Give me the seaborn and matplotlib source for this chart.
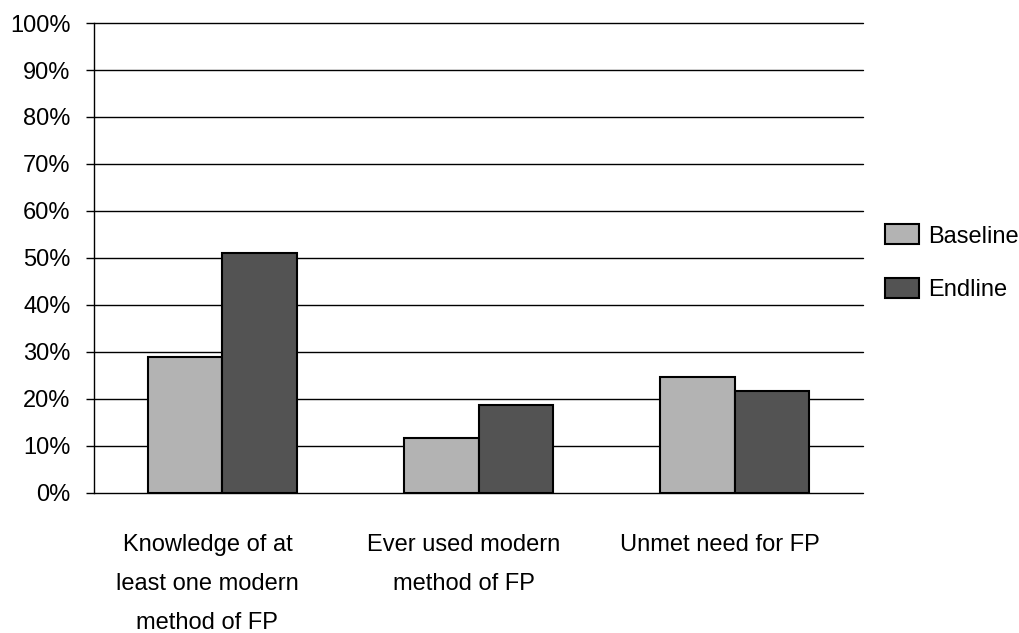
import matplotlib
matplotlib.use("Agg")
import matplotlib.pyplot as plt
import matplotlib.transforms as mtransforms
import seaborn as sns
import pandas as pd
from matplotlib.patches import Patch

categories = ["Knowledge of at\nleast one modern\nmethod of FP",
              "Ever used modern\nmethod of FP",
              "Unmet need for FP"]
series_names = ["Baseline", "Endline"]
baseline = [28.8, 11.6, 24.7]
endline = [51.1, 18.7, 21.7]
y_ticks = [0, 10, 20, 30, 40, 50, 60, 70, 80, 90, 100]
y_tick_labels = [f"{v}%" for v in y_ticks]
colors = ["#b3b3b3", "#535353"]

df = pd.DataFrame({
    "category": categories * 2,
    "series": [series_names[0]] * 3 + [series_names[1]] * 3,
    "value": baseline + endline,
})

sns.set_theme(style="white")
plt.rcParams["font.family"] = ["Liberation Sans", "DejaVu Sans"]
plt.rcParams["text.color"] = "black"

fig = plt.figure(figsize=(10.2, 6.33), dpi=100)
ax = fig.add_axes([0.0925, 0.2216, 0.7533, 0.742])

sns.barplot(data=df, x="category", y="value", hue="series", order=categories,
            hue_order=series_names, palette=colors, width=0.58, ax=ax,
            edgecolor="black", linewidth=1.5, saturation=1, legend=False, zorder=3)

ax.set_ylim(0, 100)
ax.set_xlim(-0.5, 2.5)
ax.set_yticks(y_ticks)
ax.set_yticklabels(y_tick_labels, fontsize=17, color="black")
ax.yaxis.grid(True, color="black", linewidth=1.0, zorder=0)
for gl in ax.get_ygridlines():
    gl.set_clip_on(False)
ax.set_axisbelow(True)
ax.tick_params(axis="y", which="both", left=True, length=6, width=1.0,
               color="black", pad=11)
ax.tick_params(axis="x", length=0, pad=30, labelsize=17, labelcolor="black")
shift = mtransforms.ScaledTranslation(-15 / 100, 0, fig.dpi_scale_trans)
for lbl in ax.get_xticklabels():
    lbl.set_linespacing(2.0)
    lbl.set_horizontalalignment("center")
    lbl.set_transform(lbl.get_transform() + shift)
ax.set_xlabel("")
ax.set_ylabel("")
for s in ["top", "right", "bottom"]:
    ax.spines[s].set_visible(False)
ax.spines["left"].set_color("black")
ax.spines["left"].set_linewidth(1.0)
ax.spines["left"].set_zorder(4)

handles = [Patch(facecolor=c, edgecolor="black", linewidth=1.5) for c in colors]
leg = fig.legend(handles, series_names, loc="center left",
                 bbox_to_anchor=(0.868, 0.585), frameon=False, fontsize=17,
                 handlelength=1.42, handleheight=0.92, handletextpad=0.4,
                 labelspacing=1.28, borderaxespad=0, borderpad=0)
for t in leg.get_texts():
    t.set_color("black")

fig.savefig("out.png", dpi=100)
